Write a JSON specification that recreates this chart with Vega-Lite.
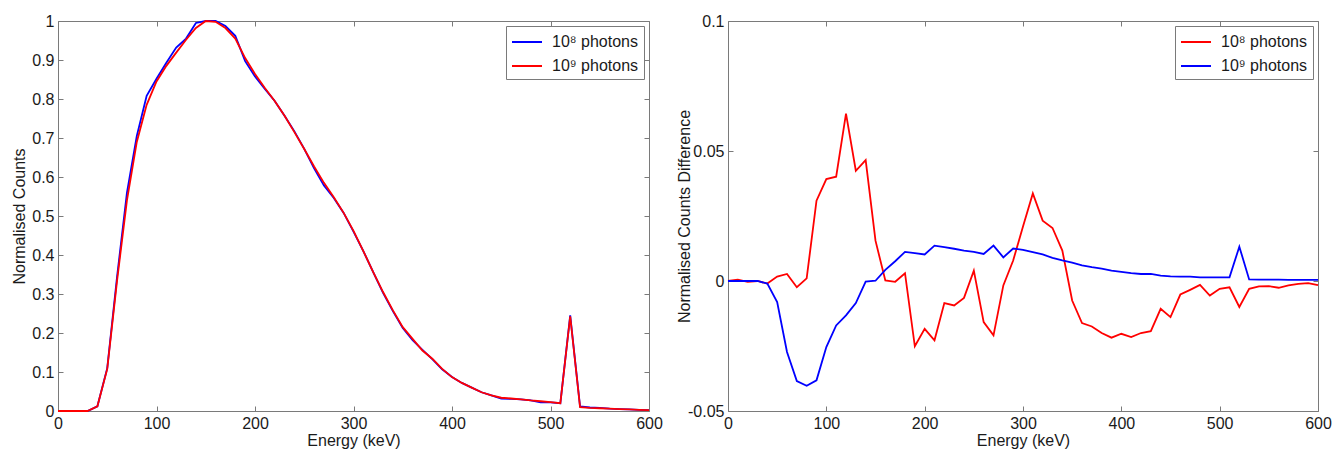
{
  "$schema": "https://vega.github.io/schema/vega-lite/v6.json",
  "padding": {"left": 10, "top": 12, "right": 10, "bottom": 5},
  "bounds": "flush",
  "spacing": 79,
  "background": "white",
  "config": {
    "font": "Liberation Sans",
    "view": {"stroke": "#7a7a7a", "strokeWidth": 1},
    "axis": {
      "grid": false, "domain": false, "tickColor": "#7a7a7a", "tickSize": -5, "tickWidth": 1,
      "labelPadding": 9, "labelFontSize": 16, "labelColor": "#1a1a1a", "labelFlush": false, "labelOverlap": false,
      "titleFontSize": 16, "titleFontWeight": "normal", "titleColor": "#1a1a1a"
    },
    "legend": {
      "orient": "top-right", "offset": 5, "padding": 5, "strokeColor": "#7a7a7a", "fillColor": "white",
      "symbolType": "M-1.5,0H1.5", "symbolSize": 400, "symbolOffset": 5, "symbolStrokeWidth": 2, "labelFontSize": 16, "labelColor": "#1a1a1a",
      "rowPadding": 5, "labelOffset": 14, "cornerRadius": 0
    }
  },
  "datasets": {
    "left": [
      {"E":0,"10⁸ photons":0,"10⁹ photons":0},
      {"E":10,"10⁸ photons":0,"10⁹ photons":0},
      {"E":20,"10⁸ photons":0,"10⁹ photons":0},
      {"E":30,"10⁸ photons":0,"10⁹ photons":0},
      {"E":40,"10⁸ photons":0.012,"10⁹ photons":0.012},
      {"E":50,"10⁸ photons":0.11,"10⁹ photons":0.108},
      {"E":60,"10⁸ photons":0.345,"10⁹ photons":0.335},
      {"E":70,"10⁸ photons":0.56,"10⁹ photons":0.54},
      {"E":80,"10⁸ photons":0.705,"10⁹ photons":0.69},
      {"E":90,"10⁸ photons":0.808,"10⁹ photons":0.785},
      {"E":100,"10⁸ photons":0.852,"10⁹ photons":0.845},
      {"E":110,"10⁸ photons":0.893,"10⁹ photons":0.885},
      {"E":120,"10⁸ photons":0.932,"10⁹ photons":0.919},
      {"E":130,"10⁸ photons":0.955,"10⁹ photons":0.952},
      {"E":140,"10⁸ photons":0.995,"10⁹ photons":0.982},
      {"E":150,"10⁸ photons":1.0,"10⁹ photons":1.0},
      {"E":160,"10⁸ photons":1.0,"10⁹ photons":0.998},
      {"E":170,"10⁸ photons":0.987,"10⁹ photons":0.982},
      {"E":180,"10⁸ photons":0.962,"10⁹ photons":0.955},
      {"E":190,"10⁸ photons":0.897,"10⁹ photons":0.905},
      {"E":200,"10⁸ photons":0.858,"10⁹ photons":0.864},
      {"E":210,"10⁸ photons":0.826,"10⁹ photons":0.828},
      {"E":220,"10⁸ photons":0.795,"10⁹ photons":0.795},
      {"E":230,"10⁸ photons":0.757,"10⁹ photons":0.757},
      {"E":240,"10⁸ photons":0.717,"10⁹ photons":0.715},
      {"E":250,"10⁸ photons":0.672,"10⁹ photons":0.672},
      {"E":260,"10⁸ photons":0.622,"10⁹ photons":0.627},
      {"E":270,"10⁸ photons":0.578,"10⁹ photons":0.585},
      {"E":280,"10⁸ photons":0.546,"10⁹ photons":0.548},
      {"E":290,"10⁸ photons":0.508,"10⁹ photons":0.508},
      {"E":300,"10⁸ photons":0.46,"10⁹ photons":0.462},
      {"E":310,"10⁸ photons":0.41,"10⁹ photons":0.41},
      {"E":320,"10⁸ photons":0.356,"10⁹ photons":0.356},
      {"E":330,"10⁸ photons":0.303,"10⁹ photons":0.305},
      {"E":340,"10⁸ photons":0.256,"10⁹ photons":0.258},
      {"E":350,"10⁸ photons":0.213,"10⁹ photons":0.215},
      {"E":360,"10⁸ photons":0.182,"10⁹ photons":0.185},
      {"E":370,"10⁸ photons":0.157,"10⁹ photons":0.155},
      {"E":380,"10⁸ photons":0.133,"10⁹ photons":0.134},
      {"E":390,"10⁸ photons":0.107,"10⁹ photons":0.108},
      {"E":400,"10⁸ photons":0.087,"10⁹ photons":0.087},
      {"E":410,"10⁸ photons":0.072,"10⁹ photons":0.072},
      {"E":420,"10⁸ photons":0.06,"10⁹ photons":0.06},
      {"E":430,"10⁸ photons":0.048,"10⁹ photons":0.048},
      {"E":440,"10⁸ photons":0.04,"10⁹ photons":0.04},
      {"E":450,"10⁸ photons":0.032,"10⁹ photons":0.034},
      {"E":460,"10⁸ photons":0.031,"10⁹ photons":0.032},
      {"E":470,"10⁸ photons":0.03,"10⁹ photons":0.03},
      {"E":480,"10⁸ photons":0.027,"10⁹ photons":0.027},
      {"E":490,"10⁸ photons":0.022,"10⁹ photons":0.025},
      {"E":500,"10⁸ photons":0.022,"10⁹ photons":0.023},
      {"E":510,"10⁸ photons":0.02,"10⁹ photons":0.02},
      {"E":520,"10⁸ photons":0.245,"10⁹ photons":0.243},
      {"E":530,"10⁸ photons":0.012,"10⁹ photons":0.01},
      {"E":540,"10⁸ photons":0.009,"10⁹ photons":0.008},
      {"E":550,"10⁸ photons":0.008,"10⁹ photons":0.007},
      {"E":560,"10⁸ photons":0.006,"10⁹ photons":0.006},
      {"E":570,"10⁸ photons":0.005,"10⁹ photons":0.005},
      {"E":580,"10⁸ photons":0.004,"10⁹ photons":0.004},
      {"E":590,"10⁸ photons":0.003,"10⁹ photons":0.003},
      {"E":600,"10⁸ photons":0.002,"10⁹ photons":0.002}
    ],
    "right": [
      {"E":0,"10⁸ photons":0,"10⁹ photons":0},
      {"E":10,"10⁸ photons":0.0005,"10⁹ photons":0},
      {"E":20,"10⁸ photons":-0.0003,"10⁹ photons":0},
      {"E":30,"10⁸ photons":0,"10⁹ photons":0},
      {"E":40,"10⁸ photons":-0.001,"10⁹ photons":-0.001},
      {"E":50,"10⁸ photons":0.0017,"10⁹ photons":-0.0081},
      {"E":60,"10⁸ photons":0.0027,"10⁹ photons":-0.0273},
      {"E":70,"10⁸ photons":-0.0024,"10⁹ photons":-0.0385},
      {"E":80,"10⁸ photons":0.001,"10⁹ photons":-0.0403},
      {"E":90,"10⁸ photons":0.0309,"10⁹ photons":-0.0382},
      {"E":100,"10⁸ photons":0.0392,"10⁹ photons":-0.0254},
      {"E":110,"10⁸ photons":0.0401,"10⁹ photons":-0.0171},
      {"E":120,"10⁸ photons":0.0644,"10⁹ photons":-0.0132},
      {"E":130,"10⁸ photons":0.0424,"10⁹ photons":-0.0085},
      {"E":140,"10⁸ photons":0.0465,"10⁹ photons":-0.0002},
      {"E":150,"10⁸ photons":0.0155,"10⁹ photons":0.0001},
      {"E":160,"10⁸ photons":0.0002,"10⁹ photons":0.0043},
      {"E":170,"10⁸ photons":-0.0003,"10⁹ photons":0.0076},
      {"E":180,"10⁸ photons":0.003,"10⁹ photons":0.0112},
      {"E":190,"10⁸ photons":-0.0251,"10⁹ photons":0.0107},
      {"E":200,"10⁸ photons":-0.0184,"10⁹ photons":0.0102},
      {"E":210,"10⁸ photons":-0.0228,"10⁹ photons":0.0136},
      {"E":220,"10⁸ photons":-0.0085,"10⁹ photons":0.013},
      {"E":230,"10⁸ photons":-0.0094,"10⁹ photons":0.0124},
      {"E":240,"10⁸ photons":-0.0065,"10⁹ photons":0.0117},
      {"E":250,"10⁸ photons":0.004,"10⁹ photons":0.0112},
      {"E":260,"10⁸ photons":-0.0158,"10⁹ photons":0.0104},
      {"E":270,"10⁸ photons":-0.0209,"10⁹ photons":0.0136},
      {"E":280,"10⁸ photons":-0.0017,"10⁹ photons":0.0091},
      {"E":290,"10⁸ photons":0.0079,"10⁹ photons":0.0125},
      {"E":300,"10⁸ photons":0.021,"10⁹ photons":0.012},
      {"E":310,"10⁸ photons":0.0337,"10⁹ photons":0.0111},
      {"E":320,"10⁸ photons":0.0232,"10⁹ photons":0.0102},
      {"E":330,"10⁸ photons":0.0204,"10⁹ photons":0.0089},
      {"E":340,"10⁸ photons":0.0117,"10⁹ photons":0.0079},
      {"E":350,"10⁸ photons":-0.0075,"10⁹ photons":0.0071},
      {"E":360,"10⁸ photons":-0.0162,"10⁹ photons":0.006},
      {"E":370,"10⁸ photons":-0.0175,"10⁹ photons":0.0053},
      {"E":380,"10⁸ photons":-0.02,"10⁹ photons":0.0048},
      {"E":390,"10⁸ photons":-0.0218,"10⁹ photons":0.004},
      {"E":400,"10⁸ photons":-0.0203,"10⁹ photons":0.0035},
      {"E":410,"10⁸ photons":-0.0216,"10⁹ photons":0.003},
      {"E":420,"10⁸ photons":-0.02,"10⁹ photons":0.0027},
      {"E":430,"10⁸ photons":-0.0193,"10⁹ photons":0.0027},
      {"E":440,"10⁸ photons":-0.0107,"10⁹ photons":0.0021},
      {"E":450,"10⁸ photons":-0.0139,"10⁹ photons":0.0018},
      {"E":460,"10⁸ photons":-0.0052,"10⁹ photons":0.0017},
      {"E":470,"10⁸ photons":-0.0034,"10⁹ photons":0.0017},
      {"E":480,"10⁸ photons":-0.0015,"10⁹ photons":0.0014},
      {"E":490,"10⁸ photons":-0.0056,"10⁹ photons":0.0014},
      {"E":500,"10⁸ photons":-0.003,"10⁹ photons":0.0014},
      {"E":510,"10⁸ photons":-0.0024,"10⁹ photons":0.0014},
      {"E":520,"10⁸ photons":-0.01,"10⁹ photons":0.0132},
      {"E":530,"10⁸ photons":-0.003,"10⁹ photons":0.0006},
      {"E":540,"10⁸ photons":-0.0021,"10⁹ photons":0.0005},
      {"E":550,"10⁸ photons":-0.002,"10⁹ photons":0.0005},
      {"E":560,"10⁸ photons":-0.0026,"10⁹ photons":0.0005},
      {"E":570,"10⁸ photons":-0.0017,"10⁹ photons":0.0004},
      {"E":580,"10⁸ photons":-0.0011,"10⁹ photons":0.0004},
      {"E":590,"10⁸ photons":-0.0008,"10⁹ photons":0.0004},
      {"E":600,"10⁸ photons":-0.0016,"10⁹ photons":0.0004}
    ]
  },
  "hconcat": [
    {
      "width": 591, "height": 390,
      "data": {"name": "left"},
      "transform": [{"fold": ["10⁸ photons", "10⁹ photons"], "as": ["s", "v"]}],
      "layer": [
        {
          "mark": {"type": "line", "strokeWidth": 1.8},
          "encoding": {
            "x": {"field": "E", "type": "quantitative", "scale": {"domain": [0, 600], "nice": false},
                  "axis": {"title": "Energy (keV)", "values": [0,100,200,300,400,500,600], "titlePadding": 1, "labelExpr": "datum.value + ''"}},
            "y": {"field": "v", "type": "quantitative", "scale": {"domain": [0, 1], "nice": false},
                  "axis": {"title": "Normalised Counts", "values": [0,0.1,0.2,0.3,0.4,0.5,0.6,0.7,0.8,0.9,1], "minExtent": 26, "maxExtent": 26, "titlePadding": 5, "labelExpr": "datum.value + ''"}},
            "color": {"field": "s", "type": "nominal",
                      "scale": {"domain": ["10⁸ photons", "10⁹ photons"], "range": ["#0000ff", "#ff0000"]},
                      "legend": {"title": null}}
          }
        },
        {
          "mark": {"type": "line", "opacity": 0},
          "encoding": {
            "x": {"field": "E", "type": "quantitative", "axis": {"orient": "top", "labels": false, "title": null, "values": [0,100,200,300,400,500,600]}},
            "y": {"field": "v", "type": "quantitative", "axis": {"orient": "right", "labels": false, "title": null, "values": [0,0.1,0.2,0.3,0.4,0.5,0.6,0.7,0.8,0.9,1]}},
            "detail": {"field": "s"}
          }
        }
      ],
      "resolve": {"axis": {"x": "independent", "y": "independent"}}
    },
    {
      "width": 590, "height": 390,
      "data": {"name": "right"},
      "transform": [{"fold": ["10⁸ photons", "10⁹ photons"], "as": ["s", "v"]}],
      "layer": [
        {
          "mark": {"type": "line", "strokeWidth": 1.8},
          "encoding": {
            "x": {"field": "E", "type": "quantitative", "scale": {"domain": [0, 600], "nice": false},
                  "axis": {"title": "Energy (keV)", "values": [0,100,200,300,400,500,600], "titlePadding": 1, "labelExpr": "datum.value + ''"}},
            "y": {"field": "v", "type": "quantitative", "scale": {"domain": [-0.05, 0.1], "nice": false, "zero": false},
                  "axis": {"title": "Normalised Counts Difference", "values": [-0.05, 0, 0.05, 0.1], "minExtent": 30, "maxExtent": 30, "titlePadding": 6, "labelExpr": "datum.value + ''"}},
            "color": {"field": "s", "type": "nominal",
                      "scale": {"domain": ["10⁸ photons", "10⁹ photons"], "range": ["#ff0000", "#0000ff"]},
                      "legend": {"title": null}}
          }
        },
        {
          "mark": {"type": "line", "opacity": 0},
          "encoding": {
            "x": {"field": "E", "type": "quantitative", "axis": {"orient": "top", "labels": false, "title": null, "values": [0,100,200,300,400,500,600]}},
            "y": {"field": "v", "type": "quantitative", "axis": {"orient": "right", "labels": false, "title": null, "values": [-0.05, 0, 0.05, 0.1]}},
            "detail": {"field": "s"}
          }
        }
      ],
      "resolve": {"axis": {"x": "independent", "y": "independent"}, "scale": {"color": "independent"}}
    }
  ],
  "resolve": {"scale": {"color": "independent"}}
}
